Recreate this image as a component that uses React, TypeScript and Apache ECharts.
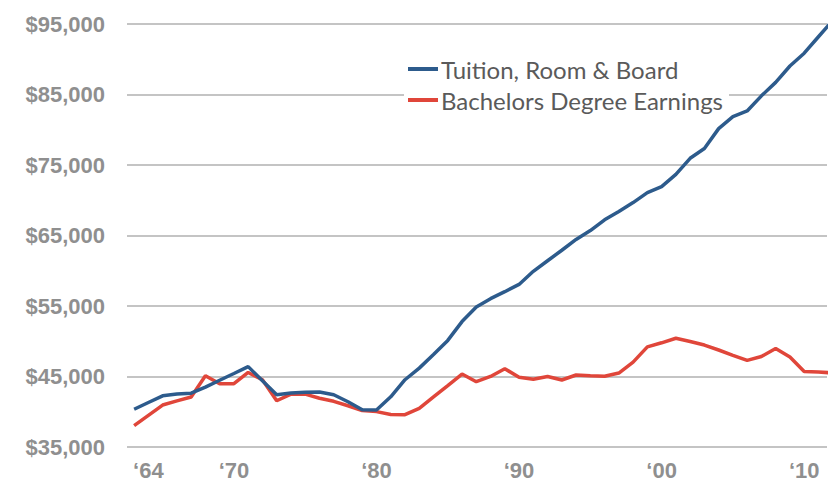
import React, { useEffect, useRef } from "react";
import * as echarts from "echarts";

const years: number[] = [
  1963, 1964, 1965, 1966, 1967, 1968, 1969, 1970, 1971, 1972,
  1973, 1974, 1975, 1976, 1977, 1978, 1979, 1980, 1981, 1982,
  1983, 1984, 1985, 1986, 1987, 1988, 1989, 1990, 1991, 1992,
  1993, 1994, 1995, 1996, 1997, 1998, 1999, 2000, 2001, 2002,
  2003, 2004, 2005, 2006, 2007, 2008, 2009, 2010, 2011, 2012,
];

const tuitionRoomBoard: number[] = [
  40360, 41310, 42260, 42510, 42640, 43500, 44470, 45430, 46400, 44400,
  42420, 42650, 42750, 42800, 42410, 41420, 40290, 40250, 42120, 44540,
  46190, 48110, 50120, 52790, 54870, 56040, 57030, 58060, 59920, 61420,
  62910, 64440, 65700, 67230, 68420, 69670, 71080, 71930, 73660, 75950,
  77340, 80160, 81860, 82670, 84810, 86720, 89040, 90860, 93190, 95500,
];

const bachelorsEarnings: number[] = [
  38020, 39490, 40950, 41540, 42100, 45120, 43980, 43980, 45570, 44540,
  41560, 42490, 42500, 41920, 41480, 40850, 40160, 40020, 39610, 39580,
  40470, 42100, 43720, 45350, 44260, 45010, 46100, 44890, 44610, 45010,
  44500, 45210, 45110, 45040, 45490, 47040, 49210, 49780, 50420, 49960,
  49460, 48760, 48010, 47290, 47840, 48960, 47760, 45720, 45650, 45500,
];

const xTickYears: number[] = [1964, 1970, 1980, 1990, 2000, 2010];
const seriesNames: string[] = ["Tuition, Room & Board", "Bachelors Degree Earnings"];

export default function App() {
  const ref = useRef<HTMLDivElement>(null);

  useEffect(() => {
    if (!ref.current) return;
    const chart = echarts.init(ref.current, undefined, { renderer: "svg" });
    const labelStyle = {
      color: "#8f8f8f",
      fontFamily: "Liberation Sans, Arial, sans-serif",
      fontWeight: "bold" as const,
      fontSize: 22,
    };
    chart.setOption({
      animation: false,
      backgroundColor: "#ffffff",
      grid: { left: 127, right: 1, top: 24, bottom: 35, containLabel: false },
      legend: {
        show: true,
        orient: "vertical",
        left: 404,
        top: 55,
        padding: [2, 6, 2, 4],
        backgroundColor: "#ffffff",
        itemWidth: 30,
        itemHeight: 4,
        itemGap: 7,
        icon: "rect",
        data: seriesNames,
        textStyle: {
          color: "#5a5a5a",
          fontFamily: "Lato, 'Open Sans', sans-serif",
          fontSize: 24,
          lineHeight: 24,
          padding: [0, 0, 0, -2],
        },
      },
      xAxis: {
        type: "value",
        min: 1962.5,
        max: 2011.6,
        axisLine: { show: false },
        axisTick: { show: false },
        splitLine: { show: false },
        axisLabel: {
          ...labelStyle,
          margin: 12,
          customValues: xTickYears,
          formatter: (v: number) => "\u2018" + String(Math.round(v)).slice(2),
        },
      },
      yAxis: {
        type: "value",
        min: 35000,
        max: 95000,
        interval: 10000,
        axisLine: { show: false },
        axisTick: { show: false },
        splitLine: { show: true, lineStyle: { color: "#c4c4c4", width: 2 } },
        axisLabel: {
          ...labelStyle,
          margin: 22,
          formatter: (v: number) => "$" + v.toLocaleString("en-US"),
        },
      },
      series: [
        {
          name: seriesNames[0],
          type: "line",
          data: years.map((y, i) => [y, tuitionRoomBoard[i]]),
          showSymbol: false,
          symbol: "none",
          clip: true,
          lineStyle: { color: "#2d5b8c", width: 3.5 },
          itemStyle: { color: "#2d5b8c" },
          z: 3,
        },
        {
          name: seriesNames[1],
          type: "line",
          data: years.map((y, i) => [y, bachelorsEarnings[i]]),
          showSymbol: false,
          symbol: "none",
          clip: true,
          lineStyle: { color: "#e0463a", width: 3.5 },
          itemStyle: { color: "#e0463a" },
          z: 2,
        },
      ],
    });
    return () => chart.dispose();
  }, []);

  return (
    <div
      ref={ref}
      style={{ position: "fixed", left: 0, top: 0, width: 828, height: 482 }}
    />
  );
}
